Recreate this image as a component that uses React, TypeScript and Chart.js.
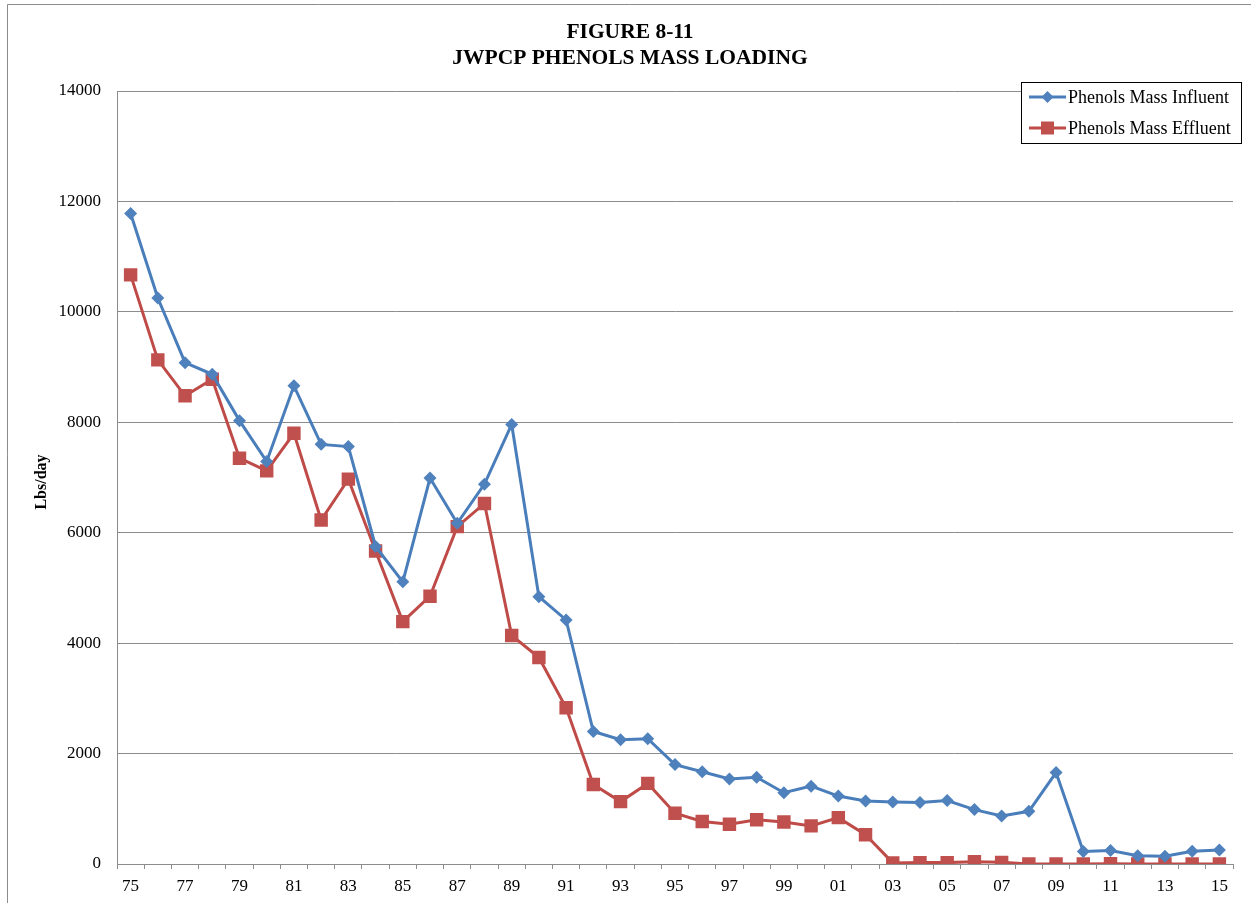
import React, { useEffect, useRef } from "react";
import { Chart, registerables } from "chart.js";

Chart.register(...registerables);

const years: string[] = [
  "75", "76", "77", "78", "79", "80", "81", "82", "83", "84",
  "85", "86", "87", "88", "89", "90", "91", "92", "93", "94",
  "95", "96", "97", "98", "99", "00", "01", "02", "03", "04",
  "05", "06", "07", "08", "09", "10", "11", "12", "13", "14", "15",
];

const influent: number[] = [
  11780, 10250, 9080, 8870, 8030, 7290, 8660, 7600, 7560, 5750,
  5110, 6990, 6170, 6880, 7960, 4840, 4420, 2400, 2250, 2270,
  1800, 1670, 1540, 1570, 1290, 1410, 1230, 1140, 1125, 1115,
  1150, 985, 870, 955, 1655, 225, 245, 150, 140, 230, 255,
];

const effluent: number[] = [
  10670, 9130, 8480, 8780, 7350, 7120, 7800, 6230, 6970, 5670,
  4390, 4850, 6110, 6530, 4140, 3740, 2830, 1440, 1130, 1460,
  920, 770, 720, 800, 760, 690, 840, 530, 20, 25,
  25, 40, 30, 0, 0, 0, 5, 0, 0, 0, 0,
];

const yTicks: number[] = [0, 2000, 4000, 6000, 8000, 10000, 12000, 14000];

const titleLines: string[] = ["FIGURE 8-11", "JWPCP PHENOLS MASS LOADING"];
const seriesNames: string[] = ["Phenols Mass Influent", "Phenols Mass Effluent"];
const yTitle = "Lbs/day";

const SERIF = "'Liberation Serif', 'Times New Roman', serif";
const BLUE_LINE = "#4A7EBB";
const BLUE_FILL = "#4F81BD";
const RED_LINE = "#BE4B48";
const RED_FILL = "#C0504D";
const GRID = "#8c8c8c";

const decorPlugin = {
  id: "decor",
  beforeDraw(chart: any) {
    const ctx = chart.ctx;
    ctx.save();
    ctx.fillStyle = "#ffffff";
    ctx.fillRect(0, 0, chart.width, chart.height);
    ctx.strokeStyle = "#8c8c8c";
    ctx.lineWidth = 1;
    ctx.beginPath();
    ctx.moveTo(7.5, chart.height + 5);
    ctx.lineTo(7.5, 4.5);
    ctx.lineTo(chart.width + 5, 4.5);
    ctx.stroke();
    ctx.restore();
  },
  afterDraw(chart: any) {
    const ctx = chart.ctx;
    ctx.save();
    // Title
    ctx.fillStyle = "#000";
    ctx.font = `bold 21.5px ${SERIF}`;
    ctx.textAlign = "center";
    ctx.textBaseline = "middle";
    ctx.fillText(titleLines[0], 630, 32);
    ctx.fillText(titleLines[1], 630, 58);

    // Y axis title
    ctx.save();
    ctx.translate(42, 482);
    ctx.rotate(-Math.PI / 2);
    ctx.font = `bold 16px ${SERIF}`;
    ctx.textAlign = "center";
    ctx.textBaseline = "middle";
    ctx.fillText(yTitle, 0, 0);
    ctx.restore();

    // Legend
    const lx = 1021.5, ly = 82.5, lw = 220, lh = 61;
    ctx.fillStyle = "#ffffff";
    ctx.fillRect(lx, ly, lw, lh);
    ctx.strokeStyle = "#000";
    ctx.lineWidth = 1;
    ctx.strokeRect(lx, ly, lw, lh);
    const rows = [
      { y: 97, line: BLUE_LINE, fill: BLUE_FILL, shape: "diamond", name: seriesNames[0] },
      { y: 128, line: RED_LINE, fill: RED_FILL, shape: "square", name: seriesNames[1] },
    ];
    rows.forEach((r) => {
      ctx.strokeStyle = r.line;
      ctx.lineWidth = 3;
      ctx.beginPath();
      ctx.moveTo(1029, r.y);
      ctx.lineTo(1066, r.y);
      ctx.stroke();
      ctx.fillStyle = r.fill;
      const cx = 1047.5;
      if (r.shape === "diamond") {
        ctx.beginPath();
        ctx.moveTo(cx, r.y - 6);
        ctx.lineTo(cx + 6, r.y);
        ctx.lineTo(cx, r.y + 6);
        ctx.lineTo(cx - 6, r.y);
        ctx.closePath();
        ctx.fill();
      } else {
        ctx.fillRect(cx - 6.5, r.y - 6.5, 13, 13);
      }
      ctx.fillStyle = "#000";
      ctx.font = `18px ${SERIF}`;
      ctx.textAlign = "left";
      ctx.textBaseline = "middle";
      ctx.fillText(r.name, 1068, r.y + 1);
    });
    ctx.restore();
  },
};

export default function App() {
  const canvasRef = useRef<HTMLCanvasElement | null>(null);

  useEffect(() => {
    if (!canvasRef.current) return;
    const chart = new Chart(canvasRef.current, {
      type: "line",
      data: {
        labels: years,
        datasets: [
          {
            label: seriesNames[0],
            data: influent,
            borderColor: BLUE_LINE,
            backgroundColor: BLUE_FILL,
            borderWidth: 3,
            pointStyle: "rectRot",
            pointRadius: 6.5,
            pointBorderWidth: 0,
            pointBackgroundColor: BLUE_FILL,
            tension: 0,
          },
          {
            label: seriesNames[1],
            data: effluent,
            borderColor: RED_LINE,
            backgroundColor: RED_FILL,
            borderWidth: 3,
            pointStyle: "rect",
            pointRadius: 9.5,
            pointBorderWidth: 0,
            pointBackgroundColor: RED_FILL,
            tension: 0,
          },
        ],
      },
      options: {
        responsive: false,
        maintainAspectRatio: false,
        animation: false,
        layout: { padding: { top: 91, right: 18, left: 0, bottom: 0 } },
        plugins: {
          legend: { display: false },
          title: { display: false },
          tooltip: { enabled: false },
        },
        scales: {
          x: {
            type: "category",
            offset: true,
            grid: {
              offset: true,
              drawOnChartArea: false,
              drawTicks: true,
              tickLength: 5,
              color: GRID,
            },
            border: { display: true, color: GRID, width: 1 },
            ticks: {
              autoSkip: false,
              maxRotation: 0,
              padding: 7,
              color: "#000",
              font: { family: SERIF, size: 17 },
              callback: (_v: any, i: number) => (i % 2 === 0 ? years[i] : ""),
            },
            afterFit: (s: any) => {
              s.height = 39;
            },
          },
          y: {
            min: 0,
            max: 14000,
            afterBuildTicks: (s: any) => {
              s.ticks = yTicks.map((v) => ({ value: v }));
            },
            grid: { color: GRID, drawTicks: false, lineWidth: 1 },
            border: { display: true, color: GRID, width: 1 },
            ticks: {
              padding: 16,
              color: "#000",
              font: { family: SERIF, size: 17 },
              callback: (v: any) => String(v),
            },
            afterFit: (s: any) => {
              s.width = 117;
            },
          },
        },
      },
      plugins: [decorPlugin],
    });
    return () => chart.destroy();
  }, []);

  return (
    <div style={{ position: "fixed", left: 0, top: 0, width: 1251, height: 903, background: "#fff" }}>
      <canvas ref={canvasRef} width={1251} height={903} style={{ display: "block" }} />
    </div>
  );
}
